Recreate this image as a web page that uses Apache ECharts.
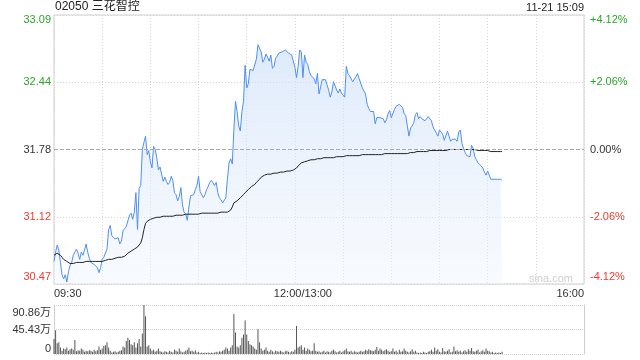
<!DOCTYPE html>
<html><head><meta charset="utf-8">
<script src="https://cdn.jsdelivr.net/npm/echarts@6/dist/echarts.min.js"></script>
<style>html,body{margin:0;padding:0;background:#fff}#c{width:640px;height:360px}</style>
</head><body><div id="c"></div>
<script>
const stockTitle = '02050 三花智控';
const stampText = '11-21 15:09';
const prevClose = 31.78;
const priceTicks = ['30.47','31.12','31.78','32.44','33.09'];
const pctTicks = ['-4.12%','-2.06%','0.00%','+2.06%','+4.12%'];
const volTicks = ['0','45.43万','90.86万'];
const volMax = 90.86;
const timeTickPos = [0,150,330];
const timeTickText = ['09:30','12:00/13:00','16:00'];
const price = [30.69,30.78,30.85,30.80,30.68,30.56,30.52,30.56,30.49,30.59,
30.65,30.68,30.75,30.74,30.81,30.77,30.71,30.78,30.75,30.80,
30.86,30.78,30.72,30.68,30.68,30.66,30.65,30.63,30.58,30.63,
30.71,30.73,30.73,30.81,31.00,31.04,30.94,30.95,30.91,30.90,
30.92,30.86,30.89,30.99,31.01,31.03,31.02,31.14,31.16,31.10,
31.17,31.36,31.00,31.40,31.43,31.78,31.85,31.91,31.73,31.77,
31.66,31.60,31.81,31.78,31.70,31.58,31.61,31.54,31.47,31.51,
31.47,31.44,31.46,31.52,31.48,31.36,31.34,31.28,31.32,31.41,
31.24,31.17,31.15,31.09,31.22,31.33,31.34,31.34,31.39,31.43,
31.52,31.37,31.36,31.31,31.34,31.39,31.42,31.46,31.48,31.48,
31.43,31.46,31.36,31.31,31.29,31.26,31.25,31.31,31.50,31.65,
31.69,31.64,31.97,32.25,32.15,32.01,31.96,32.15,32.25,32.60,
32.38,32.42,32.56,32.56,32.55,32.55,32.66,32.80,32.81,32.73,
32.63,32.66,32.71,32.68,32.64,32.70,32.57,32.59,32.67,32.69,
32.72,32.72,32.73,32.74,32.75,32.74,32.72,32.71,32.70,32.69,
32.58,32.48,32.59,32.75,32.73,32.48,32.70,32.63,32.61,32.54,
32.50,32.49,32.47,32.42,32.52,32.32,32.39,32.46,32.45,32.46,
32.46,32.36,32.29,32.34,32.44,32.40,32.36,32.33,32.37,32.33,
32.31,32.29,32.59,32.52,32.50,32.47,32.44,32.43,32.49,32.52,
32.47,32.46,32.38,32.39,32.32,32.22,32.18,32.15,32.14,32.15,
32.03,32.09,32.10,32.09,32.10,32.08,32.04,32.07,32.13,32.16,
32.09,32.08,32.17,32.20,32.19,32.22,32.22,32.19,32.13,32.11,
32.01,31.91,31.99,32.01,32.04,32.12,32.14,32.08,32.10,32.08,
32.08,32.06,32.08,32.10,32.10,32.06,32.00,31.99,31.94,31.91,
31.97,31.97,31.93,31.87,31.88,31.96,31.97,31.86,31.88,31.87,
31.88,31.86,31.95,31.97,31.84,31.79,31.75,31.72,31.71,31.71,
31.82,31.79,31.71,31.68,31.65,31.64,31.62,31.60,31.56,31.53,
31.57,31.53,31.49,31.50,31.49,31.50,31.49,31.50,31.49,31.48];
const avgPrice = [30.75,30.76,30.77,30.77,30.75,30.73,30.71,30.70,30.69,30.68,
30.67,30.67,30.67,30.67,30.68,30.68,30.68,30.68,30.68,30.68,
30.69,30.69,30.69,30.69,30.69,30.69,30.69,30.69,30.69,30.69,
30.69,30.70,30.70,30.70,30.71,30.71,30.71,30.72,30.72,30.72,
30.73,30.73,30.73,30.74,30.74,30.75,30.77,30.78,30.79,30.80,
30.81,30.82,30.83,30.85,30.87,30.92,31.00,31.06,31.08,31.09,
31.10,31.10,31.11,31.11,31.12,31.12,31.12,31.12,31.13,31.13,
31.13,31.13,31.13,31.13,31.13,31.14,31.14,31.14,31.14,31.14,
31.14,31.14,31.15,31.15,31.15,31.15,31.15,31.15,31.15,31.15,
31.15,31.15,31.16,31.16,31.16,31.16,31.16,31.16,31.16,31.16,
31.16,31.16,31.16,31.16,31.17,31.17,31.17,31.17,31.17,31.18,
31.19,31.22,31.26,31.27,31.28,31.29,31.31,31.32,31.34,31.36,
31.37,31.39,31.40,31.42,31.43,31.44,31.46,31.47,31.49,31.51,
31.52,31.53,31.53,31.54,31.54,31.54,31.55,31.55,31.55,31.55,
31.56,31.56,31.56,31.56,31.57,31.57,31.57,31.57,31.58,31.58,
31.58,31.60,31.62,31.63,31.65,31.65,31.66,31.66,31.67,31.67,
31.68,31.68,31.68,31.69,31.69,31.69,31.69,31.69,31.70,31.70,
31.70,31.70,31.70,31.70,31.70,31.71,31.71,31.71,31.71,31.71,
31.71,31.71,31.72,31.72,31.72,31.72,31.72,31.72,31.72,31.72,
31.72,31.73,31.73,31.73,31.73,31.73,31.73,31.73,31.73,31.73,
31.73,31.73,31.73,31.73,31.73,31.73,31.74,31.74,31.74,31.74,
31.74,31.74,31.74,31.74,31.74,31.74,31.74,31.74,31.74,31.74,
31.74,31.75,31.75,31.75,31.75,31.75,31.76,31.76,31.76,31.76,
31.76,31.76,31.76,31.77,31.77,31.77,31.77,31.77,31.77,31.77,
31.77,31.77,31.77,31.77,31.77,31.78,31.78,31.78,31.78,31.78,
31.78,31.78,31.78,31.78,31.78,31.78,31.78,31.78,31.78,31.78,
31.78,31.78,31.78,31.77,31.77,31.77,31.77,31.77,31.77,31.77,
31.77,31.77,31.76,31.76,31.76,31.76,31.76,31.76,31.76,31.76];
const volume = [28,44,20,22,12,6,10,9,12,6,
9,10,8,26,5,7,6,10,8,4,
6,5,7,6,4,8,5,7,14,8,
10,15,16,22,12,6,3,4,5,3,
4,6,7,14,12,24,30,26,18,16,
22,12,20,28,14,38,90.86,70,14,16,
10,6,8,4,6,10,5,4,3,5,
4,3,6,4,3,8,6,4,10,5,
3,4,6,8,12,5,6,4,7,3,
4,2,3,2,3,2,3,2,3,2,
3,4,3,5,4,6,8,12,10,6,
12,16,74,40,14,12,16,30,36,62,
36,24,18,16,14,10,8,46,22,10,
6,8,12,6,4,8,5,3,6,5,
4,6,4,3,5,6,4,3,5,4,
8,52,12,14,16,8,12,6,10,8,
5,6,20,6,4,5,3,4,6,3,
5,4,3,6,8,5,3,4,6,3,
5,7,10,5,4,6,3,5,4,3,
4,6,4,5,8,6,9,7,6,5,
8,13,6,10,8,5,7,9,6,4,
5,10,4,6,3,8,4,5,10,6,
4,3,5,9,4,6,3,2,3,2,
4,3,2,4,5,8,4,12,6,9,
4,3,11,5,4,6,9,3,4,14,
5,7,4,6,3,5,7,4,9,6,
11,5,4,6,8,3,5,7,4,10,
6,5,3,4,2,3,2,3,2,4];

const GREEN = '#2aa52a', RED = '#ef3b2c', DARK = '#333';
const span = 1.31, step = 0.655;
const FONT = 'Liberation Sans, Arial, "Noto Sans CJK SC", sans-serif';
function tickIdx(v){ return Math.round((v + span) / step); }
function colorFor(k){ return k > 2 ? 'g' : (k < 2 ? 'r' : 'k'); }
function posFor(k){ return k === 4 ? 'T' : (k === 0 ? 'B' : ''); }
const richPrice = {
  g:{color:GREEN,fontSize:11,fontFamily:FONT}, r:{color:RED,fontSize:11,fontFamily:FONT}, k:{color:DARK,fontSize:11,fontFamily:FONT},
  gT:{color:GREEN,fontSize:11,fontFamily:FONT,padding:[10,0,0,0]},
  rB:{color:RED,fontSize:11,fontFamily:FONT,padding:[0,0,14,0]}
};
const priceData = price.map((p,i)=>[i, +(p - prevClose).toFixed(4)]);
const avgData = avgPrice.map((p,i)=>[i, +(p - prevClose).toFixed(4)]);
const volData = volume.map((v,i)=>[i, v]);

const chart = echarts.init(document.getElementById('c'), null, {renderer:'canvas'});
chart.setOption({
  animation:false,
  textStyle:{fontFamily:FONT},
  title:[
    {text:stockTitle, left:50, top:-4, textStyle:{fontSize:12,fontWeight:'normal',color:'#222',fontFamily:FONT}},
    {text:stampText, right:51, top:-3, textStyle:{fontSize:11,fontWeight:'normal',color:'#222',fontFamily:FONT}}
  ],
  graphic:[{type:'text', right:67, top:273, style:{text:'sina.com', fill:'#cfcfcf', font:'11px '+FONT}}],
  grid:[
    {left:54, top:15, width:530, height:269, show:true, borderColor:'#cfcfcf', borderWidth:1, backgroundColor:'transparent'},
    {left:54, top:305, width:530, height:49, show:false}
  ],
  xAxis:[
    {type:'value', gridIndex:0, min:0, max:330, interval:30,
     axisLine:{show:false}, axisTick:{show:false},
     splitLine:{show:true, lineStyle:{color:'#d6d6d6', type:[1,2]}},
     axisLabel:{show:true, margin:4, fontSize:11, color:DARK, fontFamily:FONT,
       showMinLabel:true, showMaxLabel:true, alignMinLabel:'left', alignMaxLabel:'right',
       formatter:function(v){ const k = timeTickPos.indexOf(Math.round(v)); if(k<0) return ''; return k===1 ? '{m|'+timeTickText[k]+'}' : timeTickText[k]; },
       rich:{m:{fontSize:11,color:DARK,fontFamily:FONT,padding:[0,0,0,16]}}}},
    {type:'value', gridIndex:1, min:0, max:330,
     axisLine:{show:false}, axisTick:{show:false}, splitLine:{show:false}, axisLabel:{show:false}}
  ],
  yAxis:[
    {type:'value', gridIndex:0, min:-span, max:span, interval:step,
     axisLine:{show:false}, axisTick:{show:false},
     splitLine:{show:true, lineStyle:{color:'#d6d6d6', type:[1,2]}},
     axisLabel:{margin:3, formatter:function(v){const k=tickIdx(v); return '{'+colorFor(k)+posFor(k)+'|'+priceTicks[k]+'}';}, rich:richPrice}},
    {type:'value', gridIndex:0, position:'right', min:-span, max:span, interval:step,
     axisLine:{show:false}, axisTick:{show:false}, splitLine:{show:false},
     axisLabel:{margin:6, align:'left', formatter:function(v){const k=tickIdx(v); return '{'+colorFor(k)+posFor(k)+'|'+pctTicks[k]+'}';}, rich:richPrice}},
    {type:'value', gridIndex:1, min:0, max:volMax, interval:volMax/2,
     axisLine:{show:true, lineStyle:{color:'#cfcfcf'}}, axisTick:{show:false},
     splitLine:{show:true, lineStyle:{color:'#cfcfcf', type:[1,1]}},
     axisLabel:{margin:3, formatter:function(v){const k=Math.round(v/(volMax/2)); return k===2?'{t|'+volTicks[k]+'}':(k===0?'{b|'+volTicks[k]+'}':volTicks[k]);},
       fontSize:11, color:DARK, fontFamily:FONT,
       rich:{t:{fontSize:11,color:DARK,fontFamily:FONT,padding:[15,0,0,0]}, b:{fontSize:11,color:DARK,fontFamily:FONT,padding:[0,0,10,0]}}}},
    {type:'value', gridIndex:1, position:'right', min:0, max:volMax,
     axisLine:{show:true, lineStyle:{color:'#cfcfcf'}}, axisTick:{show:false}, splitLine:{show:false}, axisLabel:{show:false}}
  ],
  series:[
    {type:'line', xAxisIndex:0, yAxisIndex:0, data:priceData, symbol:'none', silent:true,
     lineStyle:{color:'#4f8ff0', width:1},
     areaStyle:{origin:'start', color:new echarts.graphic.LinearGradient(0,0,0,1,[
        {offset:0,color:'rgba(200,220,248,0.85)'},{offset:1,color:'rgba(238,244,253,0.6)'}])},
     markLine:{silent:true, symbol:'none', label:{show:false}, data:[{yAxis:0}],
       lineStyle:{color:'#a8a8a8', type:[4,2], width:1}}},
    {type:'line', xAxisIndex:0, yAxisIndex:0, data:avgData, symbol:'none', silent:true,
     lineStyle:{color:'#222', width:1}},
    {type:'bar', xAxisIndex:1, yAxisIndex:2, data:volData, barWidth:1, silent:true,
     itemStyle:{color:'#555'}}
  ]
});
</script></body></html>
